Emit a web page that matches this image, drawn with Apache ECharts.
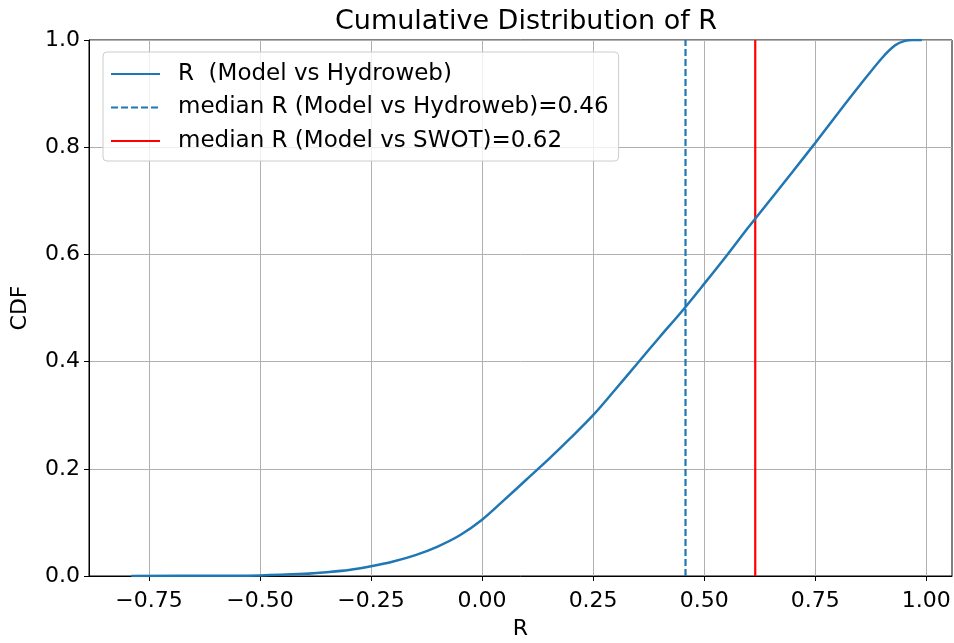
<!DOCTYPE html>
<html>
<head>
<meta charset="utf-8">
<script src="https://cdn.jsdelivr.net/npm/echarts@6.0.0/dist/echarts.min.js"></script>
<style>
  html, body { margin: 0; padding: 0; background: #fff; }
  #main { width: 954px; height: 643px; }
</style>
</head>
<body>
<div id="main"></div>
<script>
// CDF curve
var rValues   = [-0.79, -0.6, -0.5, -0.4, -0.35, -0.3, -0.25, -0.2, -0.15, -0.1, -0.05, 0.0, 0.05, 0.1, 0.15, 0.2, 0.25, 0.3, 0.35, 0.4, 0.45, 0.5, 0.55, 0.6, 0.65, 0.7, 0.75, 0.8, 0.85, 0.9, 0.93, 0.95, 0.97, 0.99];
var cdfValues = [0, 0.0005, 0.001, 0.004, 0.007, 0.011, 0.018, 0.027, 0.039, 0.055, 0.076, 0.105, 0.142, 0.18, 0.218, 0.258, 0.3, 0.348, 0.397, 0.446, 0.494, 0.545, 0.597, 0.651, 0.703, 0.755, 0.808, 0.862, 0.915, 0.966, 0.99, 0.998, 1.0, 1.0];

var medianHydroweb = 0.458;
var medianSwot = 0.615;

var xTicks = [-0.75, -0.5, -0.25, 0, 0.25, 0.5, 0.75, 1.0];

var seriesNames = [
    'R  (Model vs Hydroweb)',
    'median R (Model vs Hydroweb)=0.46',
    'median R (Model vs SWOT)=0.62'
];

var chart = echarts.init(document.getElementById('main'));

var curve = rValues.map(function (r, i) { return [r, cdfValues[i]]; });

function minus(s) { return s.replace('-', '\u2212'); }

var option = {
    animation: false,
    textStyle: { fontFamily: 'DejaVu Sans' },
    title: {
        text: 'Cumulative Distribution of R',
        left: 521,
        top: 3,
        textAlign: 'center',
        textStyle: { fontSize: 27, fontWeight: 'normal', color: '#000', fontFamily: 'DejaVu Sans' }
    },
    grid: {
        left: 89, right: 2, top: 40, bottom: 67,
        outerBoundsMode: 'none',
        show: true, borderColor: '#000', borderWidth: 1
    },
    legend: {
        orient: 'vertical',
        left: 103,
        top: 52,
        itemWidth: 49,
        itemHeight: 14,
        itemGap: 9.5,
        padding: [10, 10, 8, 7],
        backgroundColor: 'rgba(255,255,255,0.8)',
        borderColor: '#cccccc',
        borderWidth: 1,
        borderRadius: 4,
        itemStyle: { opacity: 0 },
        textStyle: { fontSize: 23, lineHeight: 24, color: '#000', padding: [0, 0, 0, 13], fontFamily: 'DejaVu Sans' },
        data: seriesNames
    },
    xAxis: {
        type: 'value',
        min: -0.885,
        max: 1.058,
        name: 'R',
        nameLocation: 'middle',
        nameGap: 42,
        nameTextStyle: { fontSize: 22, color: '#000' },
        axisLine: { show: true, onZero: false, lineStyle: { color: '#000' } },
        axisTick: { show: true, length: 5, lineStyle: { color: '#000' }, customValues: xTicks },
        axisLabel: {
            fontSize: 22, color: '#000', margin: 14,
            customValues: xTicks,
            formatter: function (v) { return minus(v.toFixed(2)); }
        },
        splitLine: { show: true, lineStyle: { color: '#b0b0b0', width: 1 } }
    },
    yAxis: {
        type: 'value',
        min: 0,
        max: 1,
        interval: 0.2,
        name: 'CDF',
        nameLocation: 'middle',
        nameGap: 58,
        nameTextStyle: { fontSize: 22, color: '#000' },
        axisLine: { show: true, onZero: false, lineStyle: { color: '#000' } },
        axisTick: { show: true, length: 5, lineStyle: { color: '#000' } },
        axisLabel: {
            fontSize: 22, color: '#000', margin: 9,
            formatter: function (v) { return v.toFixed(1); }
        },
        splitLine: { show: true, lineStyle: { color: '#b0b0b0', width: 1 } }
    },
    series: [
        {
            name: seriesNames[0],
            type: 'line',
            data: curve,
            smooth: 0.3,
            symbol: 'none',
            color: '#1f77b4',
            lineStyle: { color: '#1f77b4', width: 2.5 },
            z: 3
        },
        {
            name: seriesNames[1],
            type: 'line',
            data: [[medianHydroweb, 0], [medianHydroweb, 1]],
            symbol: 'none',
            color: '#1f77b4',
            lineStyle: { color: '#1f77b4', width: 2.2, type: [7, 3] },
            z: 2
        },
        {
            name: seriesNames[2],
            type: 'line',
            data: [[medianSwot, 0], [medianSwot, 1]],
            symbol: 'none',
            color: '#ff0000',
            lineStyle: { color: '#ff0000', width: 2.2 },
            z: 2
        }
    ]
};

chart.setOption(option);
</script>
</body>
</html>
